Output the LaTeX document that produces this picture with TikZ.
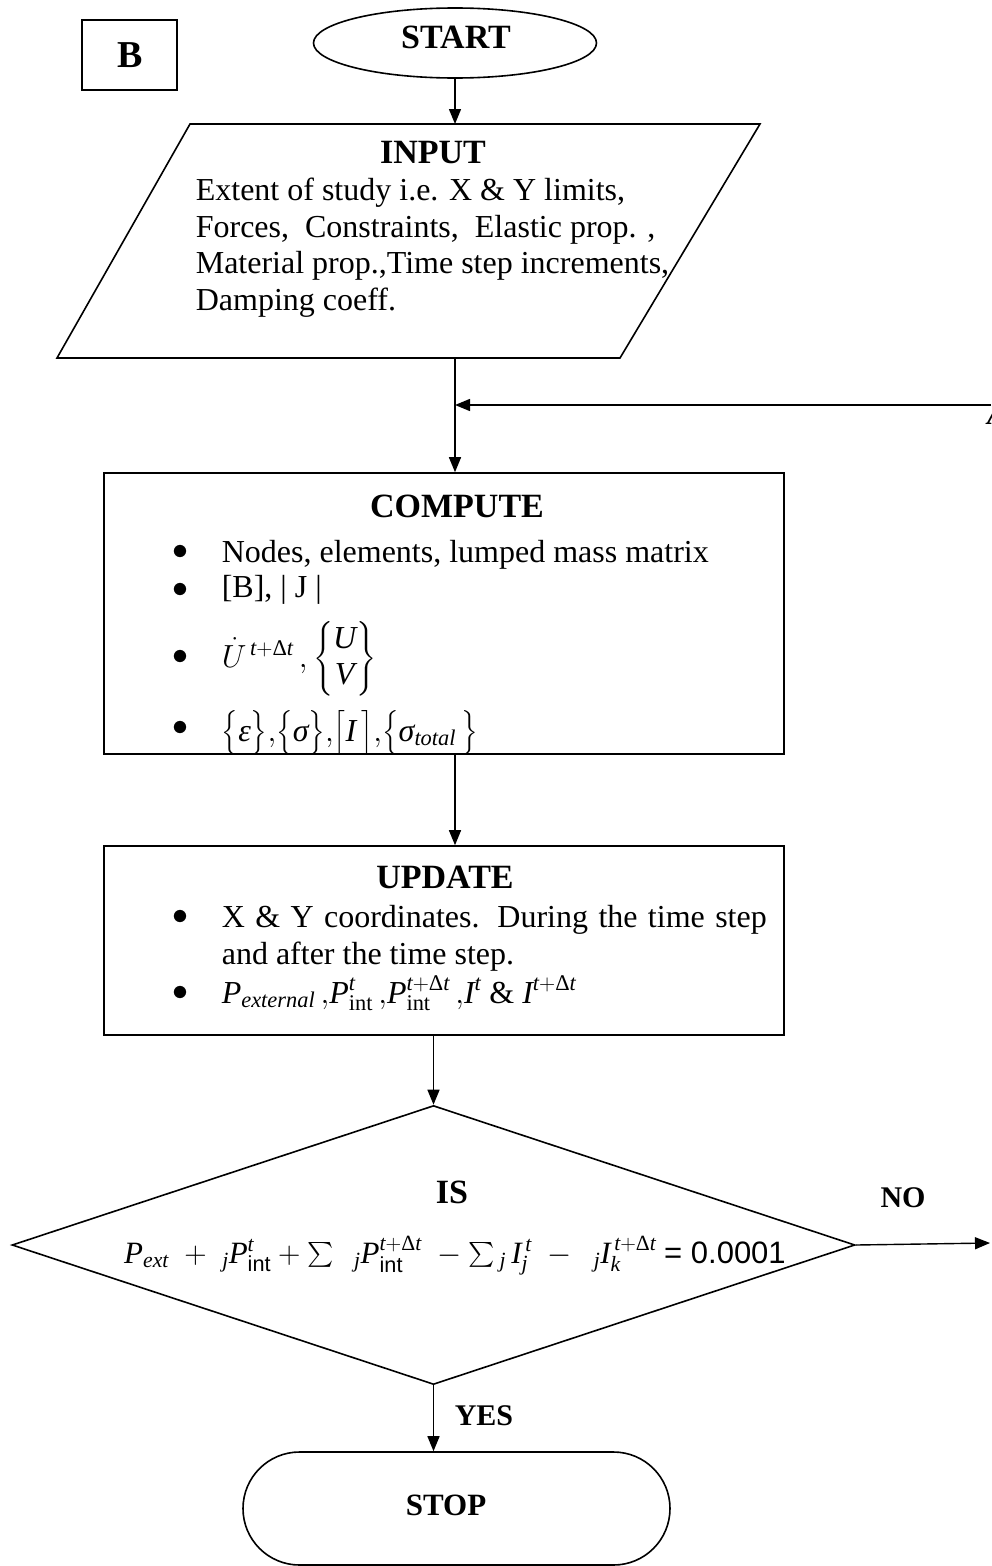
\RequirePackage{fix-cm}
\documentclass[tikz,border=0pt]{standalone}
\usepackage{amsmath}
\usepackage{fontspec}
\setmainfont{Liberation Serif}
\newfontfamily\arialf{Liberation Sans}
\usetikzlibrary{shapes.geometric,shapes.misc,arrows.meta}
\newcommand\iv[1]{\textit{#1}}
\newcommand\Dt{\text{\upshape Δ}\iv{t}}
\begin{document}
\begin{tikzpicture}[x=1pt,y=-1pt,line width=1.6pt,
  arr/.style={-{Triangle[length=15pt,width=12pt]},line width=1.4pt},
  ttl/.style={font=\fontsize{34}{38}\selectfont\bfseries,anchor=base,inner sep=0},
  lbl/.style={font=\fontsize{30}{34}\selectfont\bfseries,anchor=base,inner sep=0},
  txt/.style={font=\fontsize{32}{37}\selectfont,anchor=base west,inner sep=0},
  bul/.style={font=\fontsize{32}{37}\selectfont,inner sep=0},
  box/.style={draw,rectangle,inner sep=0}]
\useasboundingbox (0,0) rectangle (991,1566);
\fill[white] (0,0) rectangle (991,1566);
% B box
\node[box,minimum width=95pt,minimum height=70pt] (bbox) at (129.5,55) {};
\node[font=\fontsize{38}{42}\selectfont\bfseries,anchor=base,inner sep=0] (blab) at (130,67) {B};
% START
\node[draw,ellipse,minimum width=283pt,minimum height=70pt,inner sep=0] (start) at (455,43) {};
\node[ttl] (startl) at (456,48) {START};
% INPUT parallelogram
\coordinate (p1) at (190,124);
\coordinate (p2) at (760,124);
\coordinate (p3) at (620,358);
\coordinate (p4) at (57,358);
\draw (p1) -- (p2) -- (p3) -- (p4) -- cycle;
\coordinate (inTop) at (455,124);
\coordinate (inBot) at (455,358);
\node[ttl] (inputl) at (433,163) {INPUT};
\node[txt] (in1) at (195,200) {Extent of study i.e. X \& Y limits,};
\node[txt] (in2) at (195,237) {Forces,\ \ Constraints,\ \ Elastic prop. ,};
\node[txt] (in3) at (195,273) {Material prop.,Time step increments,};
\node[txt] (in4) at (195,310) {Damping coeff.};
% COMPUTE
\node[box,minimum width=680pt,minimum height=281pt] (compute) at (444,613.5) {};
\node[ttl] (compl) at (457,517) {COMPUTE};
\node[bul] (cb1) at (180,552) {$\bullet$};
\node[bul] (cb2) at (180,590) {$\bullet$};
\node[bul] (cb3) at (180,657) {$\bullet$};
\node[bul] (cb4) at (180,728) {$\bullet$};
\node[txt] (c1) at (221,562) {Nodes, elements, lumped mass matrix};
\node[txt] (c2) at (221,597) {[B], | J |};
\node[font=\fontsize{32}{37}\selectfont,anchor=west,inner sep=0] (c3) at (221,659)
  {$\dot{U}^{\,\iv{t}+\Dt}\,,\left\{\begin{matrix}\iv{U}\\[-1pt] \iv{V}\end{matrix}\right\}$};
\node[txt] (c4) at (221,741) {$\bigl\{\text{\itshape ε}\bigr\}{,}\bigl\{\text{\itshape σ}\bigr\}{,}\bigl[\iv{I}\,\bigr]{,}\bigl\{\text{\itshape σ}_{\iv{total}}\,\bigr\}$};
% UPDATE
\node[box,minimum width=680pt,minimum height=189pt] (update) at (444,940.5) {};
\node[ttl] (updl) at (445,888) {UPDATE};
\node[bul] (ub1) at (180,917) {$\bullet$};
\node[bul] (ub2) at (180,993) {$\bullet$};
\node[txt] (u1) at (221,927) {\makebox[545pt][s]{X \& Y coordinates. During the time step}};
\node[txt] (u2) at (221,964) {and after the time step.};
\node[txt] (u3) at (221,1003) {$\iv{P}_{\iv{external}}\,{,}\iv{P}^{\iv{t}}_{\text{int}}\,{,}\iv{P}^{\iv{t}+\Dt}_{\text{int}}\,{,}\iv{I}^{\iv{t}}\text{ \& }\iv{I}^{\iv{t}+\Dt}$};
% decision
\node[draw,diamond,minimum width=843pt,minimum height=279pt,inner sep=0] (dia) at (433.5,1245) {};
\node[ttl] (isl) at (452,1203) {IS};
\node[font=\fontsize{31}{35}\selectfont,anchor=base,inner sep=0] (form) at (455,1263)
  {$\iv{P}_{\iv{ext}}\;+\;{}_{\iv{j}}\iv{P}^{\iv{t}}_{\text{\arialf int}}+\sum\ \ {}_{\iv{j}}\iv{P}^{\iv{t}+\Dt}_{\text{\arialf int}}\;-\sum{}_{\iv{j}}\,\iv{I}^{\,\iv{t}}_{\iv{j}}\;-\ \ {}_{\iv{j}}\iv{I}^{\,\iv{t}+\Dt}_{\iv{k}}$ {\arialf = 0.0001}};
\node[lbl] (nol) at (903,1207) {NO};
\node[lbl] (yesl) at (484,1425) {YES};
% STOP
\node[draw,rounded rectangle,minimum width=427pt,minimum height=113pt,inner sep=0] (stop) at (456.5,1508.5) {};
\node[font=\fontsize{31}{35}\selectfont\bfseries,anchor=base,inner sep=0] (stopl) at (446,1515) {STOP};
% off-page connector letter (cut by the page edge)
\node[lbl,font=\fontsize{30}{34}\selectfont\bfseries\itshape] (afrag) at (997,424) {A};
% connectors
\coordinate (fbR) at (991,405);
\coordinate (noR) at (990,1243);
\draw[arr] (start.south) -- (inTop);
\draw[arr] (inBot) -- (inBot |- compute.north);
\draw[arr] (fbR) -- (fbR -| inBot);
\draw[arr] (compute.south -| inBot) -- (update.north -| inBot);
\draw[arr] (update.south -| dia.north) -- (dia.north);
\draw[arr] (dia.east) -- (noR);
\draw[arr] (dia.south) -- (dia.south |- stop.north);
\end{tikzpicture}
\end{document}
